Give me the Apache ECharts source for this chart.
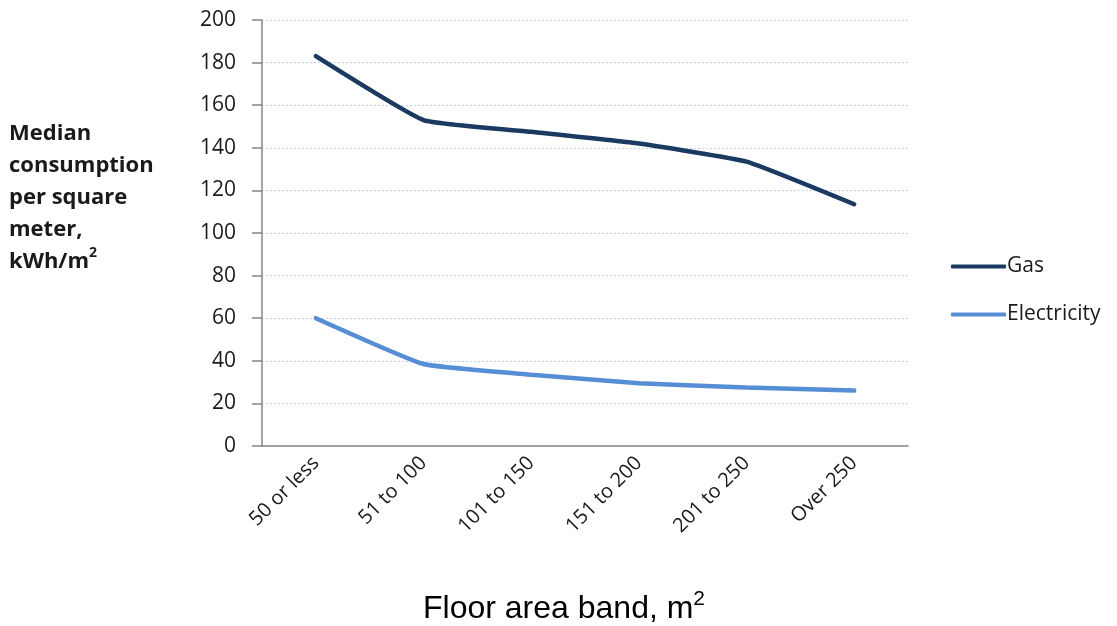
<!DOCTYPE html>
<html>
<head>
<meta charset="utf-8">
<script src="https://cdn.jsdelivr.net/npm/echarts@6/dist/echarts.min.js"></script>
<style>html,body{margin:0;padding:0;background:#fff}#c{width:1117px;height:626px}</style>
</head>
<body>
<div id="c"></div>
<script>
var categories = ['50 or less', '51 to 100', '101 to 150', '151 to 200', '201 to 250', 'Over 250'];
var gasValues = [183, 153, 147.5, 142, 133.5, 113.5];
var electricityValues = [60, 38.5, 33.5, 29.5, 27.5, 26];
var yTicks = [0, 20, 40, 60, 80, 100, 120, 140, 160, 180, 200];

var chart = echarts.init(document.getElementById('c'));
var labelFont = '"Open Sans", Lato, sans-serif';
chart.setOption({
  animation: false,
  backgroundColor: '#ffffff',
  grid: { left: 262, right: 209, top: 20, bottom: 180, containLabel: false },
  legend: {
    orient: 'vertical',
    left: 946, top: 251,
    itemWidth: 55, itemHeight: 4, itemGap: 27,
    icon: 'roundRect',
    textStyle: { fontFamily: labelFont, fontSize: 21, color: '#1a1a1a', padding: [0, 0, 0, -4] },
    data: ['Gas', 'Electricity']
  },
  xAxis: {
    type: 'category',
    data: categories,
    boundaryGap: true,
    axisLine: { lineStyle: { color: '#868686', width: 1.5 } },
    axisTick: { alignWithLabel: true, length: 6, lineStyle: { color: '#868686', width: 1.5 } },
    axisLabel: { rotate: 45, margin: 14, fontFamily: labelFont, fontSize: 20, color: '#1a1a1a', interval: 0 },
    splitLine: { show: false }
  },
  yAxis: {
    type: 'value',
    min: yTicks[0], max: yTicks[yTicks.length - 1], interval: yTicks[1] - yTicks[0],
    axisLine: { show: true, lineStyle: { color: '#868686', width: 1.5 } },
    axisTick: { show: true, length: 10, lineStyle: { color: '#868686', width: 1.5 } },
    axisLabel: { margin: 26, fontFamily: labelFont, fontSize: 21, color: '#1a1a1a' },
    splitLine: { show: true, lineStyle: { color: '#a9c4ee', type: [1.5, 2.5], width: 1.2 } }
  },
  series: [
    {
      name: 'Gas', type: 'line', data: gasValues, smooth: 0.12,
      showSymbol: false, symbol: 'none',
      lineStyle: { color: '#1a3a62', width: 4.5, cap: 'round' },
      itemStyle: { color: '#1a3a62' }
    },
    {
      name: 'Electricity', type: 'line', data: electricityValues, smooth: 0.12,
      showSymbol: false, symbol: 'none',
      lineStyle: { color: '#558ed5', width: 4.5, cap: 'round' },
      itemStyle: { color: '#558ed5' }
    }
  ],
  graphic: [
    {
      type: 'text', left: 9, top: 118,
      style: {
        text: 'Median\nconsumption\nper square\nmeter,\n{t|kWh/m}{s|2}',
        fontFamily: labelFont, fontSize: 22, fontWeight: 'bold', fill: '#1a1a1a',
        lineHeight: 32,
        rich: {
          t: { fontFamily: labelFont, fontSize: 22, fontWeight: 'bold', fill: '#1a1a1a', lineHeight: 32 },
          s: { fontFamily: labelFont, fontSize: 14, fontWeight: 'bold', fill: '#1a1a1a', verticalAlign: 'top', padding: [0, 0, 8, 0], lineHeight: 32 }
        }
      }
    },
    {
      type: 'text', left: 423, top: 589,
      style: {
        text: '{m|Floor area band, m}{s|2}',
        rich: {
          m: { fontFamily: '"Liberation Sans", Arial, sans-serif', fontSize: 32, fill: '#000' },
          s: { fontFamily: '"Liberation Sans", Arial, sans-serif', fontSize: 21, fill: '#000', padding: [0, 0, 19, 0] }
        }
      }
    }
  ]
});
</script>
</body>
</html>
